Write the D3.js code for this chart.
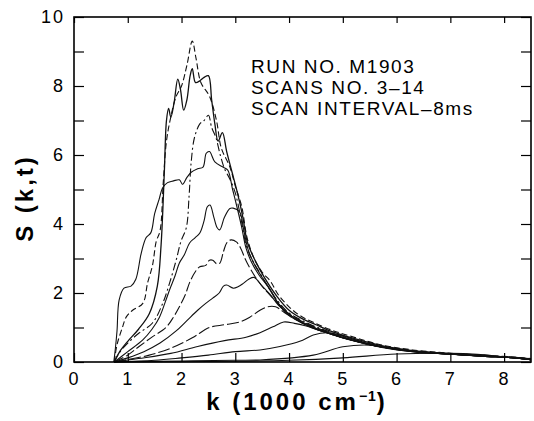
<html>
<head>
<script src="https://d3js.org/d3.v7.min.js"></script>
<style>
  body { margin: 0; background: #fff; }
  text { fill: #000; }
</style>
</head>
<body>
<svg width=534 height=421></svg>
<script>
// S(k,t), one array per scan: [k, S]
const scan3 = [[0.75,0],[3.0,0.02],[4.0,0.05],[5.0,0.12],[6.0,0.23],[7.0,0.25],[7.5,0.22],[8.0,0.15],[8.5,0.08]];
const scan4 = [[0.75,0],[2.0,0.03],[3.0,0.05],[3.46,0.06],[4.45,0.2],[5.0,0.44],[5.5,0.49],[6.0,0.36],[6.5,0.28],[7.0,0.23],[7.6,0.17],[8.2,0.12],[8.5,0.07]];
const scan5 = [[0.75,0],[1.5,0.05],[2.0,0.12],[2.5,0.2],[3.0,0.3],[3.46,0.35],[3.83,0.45],[4.2,0.6],[4.45,0.78],[4.7,0.85],[4.95,0.78],[5.2,0.66],[5.7,0.45],[6.3,0.31],[6.95,0.23],[7.6,0.17],[8.2,0.12],[8.5,0.07]];
const scan6 = [[0.75,0],[1.2,0.1],[1.8,0.25],[2.3,0.45],[2.8,0.62],[3.2,0.72],[3.46,0.85],[3.7,1.02],[3.9,1.16],[4.1,1.12],[4.3,1.05],[4.5,0.95],[4.8,0.8],[5.1,0.66],[5.7,0.44],[6.3,0.3],[6.95,0.23],[7.6,0.17],[8.2,0.12],[8.5,0.07]];
const scan7 = [[0.75,0],[1.0,0.07],[1.4,0.2],[1.8,0.4],[2.2,0.7],[2.52,1.0],[2.8,1.08],[3.08,1.16],[3.27,1.3],[3.46,1.5],[3.6,1.6],[3.75,1.6],[3.9,1.45],[4.1,1.25],[4.3,1.1],[4.5,0.97],[4.8,0.8],[5.1,0.66],[5.7,0.44],[6.3,0.31],[6.95,0.23],[7.6,0.17],[8.2,0.12],[8.5,0.07]];
const scan8 = [[0.75,0],[1.0,0.12],[1.3,0.3],[1.6,0.55],[1.9,0.9],[2.1,1.2],[2.3,1.5],[2.45,1.7],[2.58,1.85],[2.7,2.0],[2.78,2.2],[2.84,2.23],[2.96,2.14],[3.05,2.18],[3.15,2.28],[3.25,2.4],[3.35,2.45],[3.5,2.2],[3.65,1.95],[3.8,1.65],[4.0,1.38],[4.25,1.12],[4.5,0.95],[4.8,0.8],[5.1,0.66],[5.7,0.44],[6.3,0.31],[6.95,0.23],[7.6,0.17],[8.2,0.12],[8.5,0.07]];
const scan9 = [[0.75,0],[1.0,0.2],[1.21,0.45],[1.45,0.72],[1.71,1.0],[1.85,1.3],[1.96,1.6],[2.07,1.95],[2.15,2.3],[2.25,2.6],[2.34,2.76],[2.45,2.8],[2.52,2.95],[2.58,2.95],[2.65,2.85],[2.71,2.86],[2.78,3.2],[2.84,3.45],[2.92,3.54],[3.02,3.48],[3.1,3.3],[3.18,3.0],[3.28,2.7],[3.4,2.4],[3.55,2.1],[3.7,1.85],[3.85,1.6],[4.0,1.4],[4.25,1.17],[4.5,1.0],[4.8,0.83],[5.1,0.68],[5.7,0.45],[6.3,0.32],[6.95,0.24],[7.6,0.18],[8.2,0.12],[8.5,0.08]];
const scan10 = [[0.75,0],[1.0,0.3],[1.28,0.64],[1.45,0.95],[1.59,1.3],[1.7,1.75],[1.78,2.1],[1.88,2.5],[1.96,2.87],[2.05,3.1],[2.15,3.45],[2.25,3.6],[2.34,3.74],[2.42,4.1],[2.48,4.5],[2.53,4.55],[2.6,4.2],[2.66,3.9],[2.71,3.83],[2.8,4.2],[2.9,4.45],[2.96,4.46],[3.08,4.35],[3.16,3.8],[3.24,3.25],[3.35,2.85],[3.5,2.45],[3.65,2.1],[3.8,1.7],[4.0,1.35],[4.25,1.12],[4.5,0.96],[4.8,0.8],[5.1,0.65],[5.7,0.43],[6.3,0.3],[6.95,0.23],[7.6,0.17],[8.2,0.12],[8.5,0.07]];
const scan11 = [[0.74,0],[0.77,0.4],[0.8,0.9],[0.84,1.8],[0.93,2.14],[1.06,2.2],[1.15,2.4],[1.25,3.15],[1.34,3.6],[1.43,3.75],[1.5,4.3],[1.58,4.7],[1.65,5.05],[1.74,5.2],[1.85,5.25],[1.96,5.28],[2.02,5.15],[2.1,5.35],[2.18,5.5],[2.3,5.6],[2.4,5.65],[2.46,6.05],[2.52,6.1],[2.62,5.8],[2.77,5.65],[2.86,5.56],[2.95,5.0],[3.03,4.5],[3.12,3.9],[3.2,3.3],[3.3,2.9],[3.45,2.5],[3.6,2.2],[3.8,1.7],[4.0,1.38],[4.25,1.15],[4.5,0.98],[4.8,0.82],[5.1,0.67],[5.7,0.44],[6.3,0.31],[6.95,0.23],[7.6,0.17],[8.2,0.12],[8.5,0.07]];
const scan12 = [[0.75,0],[0.84,0.26],[1.0,0.55],[1.21,0.84],[1.46,1.13],[1.65,1.7],[1.78,2.3],[1.9,2.95],[1.99,3.5],[2.09,3.9],[2.14,4.8],[2.18,5.8],[2.24,6.5],[2.34,6.9],[2.42,7.0],[2.5,7.15],[2.56,6.8],[2.64,6.5],[2.72,6.0],[2.8,5.6],[2.9,5.3],[3.0,4.9],[3.1,4.2],[3.2,3.4],[3.3,3.0],[3.45,2.6],[3.6,2.2],[3.8,1.75],[4.0,1.42],[4.25,1.2],[4.5,1.02],[4.8,0.85],[5.1,0.7],[5.7,0.46],[6.3,0.32],[6.95,0.24],[7.6,0.18],[8.2,0.13],[8.5,0.08]];
const scan13 = [[0.75,0],[0.85,0.3],[1.0,0.6],[1.2,0.95],[1.4,1.4],[1.55,2.2],[1.62,3.4],[1.68,5.5],[1.72,7.0],[1.76,7.35],[1.8,7.1],[1.86,7.5],[1.93,8.2],[1.98,7.9],[2.04,7.3],[2.1,7.6],[2.16,8.3],[2.2,8.5],[2.26,8.1],[2.34,8.15],[2.42,8.25],[2.5,8.3],[2.56,7.6],[2.62,6.9],[2.68,6.4],[2.76,6.65],[2.84,6.1],[2.94,5.5],[3.04,4.9],[3.14,4.2],[3.22,3.5],[3.32,3.1],[3.45,2.7],[3.6,2.3],[3.8,1.85],[4.0,1.5],[4.25,1.25],[4.5,1.08],[4.8,0.88],[5.1,0.73],[5.7,0.48],[6.3,0.33],[6.95,0.25],[7.6,0.19],[8.2,0.13],[8.5,0.09]];
const scan14 = [[0.75,0],[0.8,0.5],[0.9,1.0],[0.97,1.3],[1.09,1.5],[1.28,1.7],[1.37,2.3],[1.46,2.8],[1.53,3.5],[1.6,3.8],[1.66,5.2],[1.72,6.4],[1.8,7.1],[1.9,7.7],[2.0,8.0],[2.1,8.6],[2.2,9.3],[2.27,8.8],[2.36,8.1],[2.52,7.7],[2.65,7.0],[2.74,6.2],[2.9,5.65],[3.0,5.1],[3.12,4.5],[3.22,3.6],[3.35,3.0],[3.5,2.6],[3.65,2.35],[3.8,1.95],[4.0,1.6],[4.2,1.35],[4.45,1.15],[4.8,0.92],[5.1,0.77],[5.7,0.5],[6.3,0.35],[6.95,0.26],[7.6,0.2],[8.2,0.14],[8.5,0.1]];

const scans = [scan3, scan4, scan5, scan6, scan7, scan8, scan9, scan10, scan11, scan12, scan13, scan14];
const xTicks = [0, 1, 2, 3, 4, 5, 6, 7, 8];
const yTicks = [0, 1, 2, 3, 4, 5, 6, 7, 8, 9, 10];
const notes = ["RUN NO. M1903", "SCANS NO. 3\u201314", "SCAN INTERVAL\u20138ms"];

// dash patterns by index in scans (the print breaks some traces up)
const dashes = { 6: "10,3", 4: "12,3", 9: "8,3,2,3", 11: "6,3" };

const svg = d3.select('svg');
const x = d3.scaleLinear().domain([0, 8.5]).range([74, 531]);
const y = d3.scaleLinear().domain([0, 10]).range([362, 17]);

const line = d3.line()
  .x(d => x(d[0]))
  .y(d => y(d[1]))
  .curve(d3.curveCatmullRom.alpha(0.5));

svg.append('g')
  .selectAll('path')
  .data(scans)
  .join('path')
  .attr('d', line)
  .attr('fill', 'none')
  .attr('stroke', '#111')
  .attr('stroke-width', (d, i) => i == 10 ? 1.3 : 1.1)
  .attr('stroke-dasharray', (d, i) => dashes[i] || null);

// frame
svg.append('rect')
  .attr('x', x(0)).attr('y', y(10))
  .attr('width', x(8.5) - x(0)).attr('height', y(0) - y(10))
  .attr('fill', 'none').attr('stroke', '#000').attr('stroke-width', 1.6);

const fontAxis = g => g.selectAll('text')
  .style('font-family', '"Liberation Sans", Arial, sans-serif')
  .style('font-size', '18px')
  .style('letter-spacing', '2px');

// left axis, ticks pointing in
svg.append('g')
  .attr('transform', `translate(${x(0)},0)`)
  .call(d3.axisLeft(y).tickValues(yTicks).tickSizeInner(-10).tickSizeOuter(0).tickPadding(9)
    .tickFormat(d => d % 2 === 0 ? d : ''))
  .call(fontAxis)
  .call(g => g.select('.domain').remove());

// right axis
svg.append('g')
  .attr('transform', `translate(${x(8.5)},0)`)
  .call(d3.axisRight(y).tickValues(yTicks).tickSizeInner(-10).tickSizeOuter(0).tickFormat(''))
  .call(g => g.select('.domain').remove());

// top axis
svg.append('g')
  .attr('transform', `translate(0,${y(10)})`)
  .call(d3.axisTop(x).tickValues(xTicks).tickSizeInner(-6).tickSizeOuter(0).tickFormat(''))
  .call(g => g.select('.domain').remove());

// bottom axis
svg.append('g')
  .attr('transform', `translate(0,${y(0)})`)
  .call(d3.axisBottom(x).tickValues(xTicks).tickSizeInner(-9).tickSizeOuter(0).tickPadding(10))
  .call(fontAxis)
  .call(g => g.select('.domain').remove());

svg.selectAll('.tick line').attr('stroke', '#000').attr('stroke-width', 1.2);

// axis titles
svg.append('text')
  .attr('transform', 'translate(33,198) rotate(-90)')
  .attr('text-anchor', 'middle')
  .style('font-family', '"Liberation Sans", Arial, sans-serif')
  .style('font-weight', 'bold')
  .style('font-size', '24px')
  .style('letter-spacing', '3px')
  .text('S (k,t)');

const xt = svg.append('text')
  .attr('x', 297).attr('y', 410)
  .attr('text-anchor', 'middle')
  .style('font-family', '"Liberation Sans", Arial, sans-serif')
  .style('font-weight', 'bold')
  .style('font-size', '24px')
  .style('letter-spacing', '3px');
xt.append('tspan').text('k (1000 cm');
xt.append('tspan').attr('dy', -9).style('font-size', '14px').style('letter-spacing', '1px').text('\u22121');
xt.append('tspan').attr('dy', 9).text(')');

// run annotation
svg.append('g')
  .selectAll('text')
  .data(notes)
  .join('text')
  .attr('x', 251)
  .attr('y', (d, i) => 73 + i * 21)
  .style('font-family', '"Liberation Sans", Arial, sans-serif')
  .style('font-size', '19px')
  .style('letter-spacing', '1.6px')
  .text(d => d);
</script>
</body>
</html>
